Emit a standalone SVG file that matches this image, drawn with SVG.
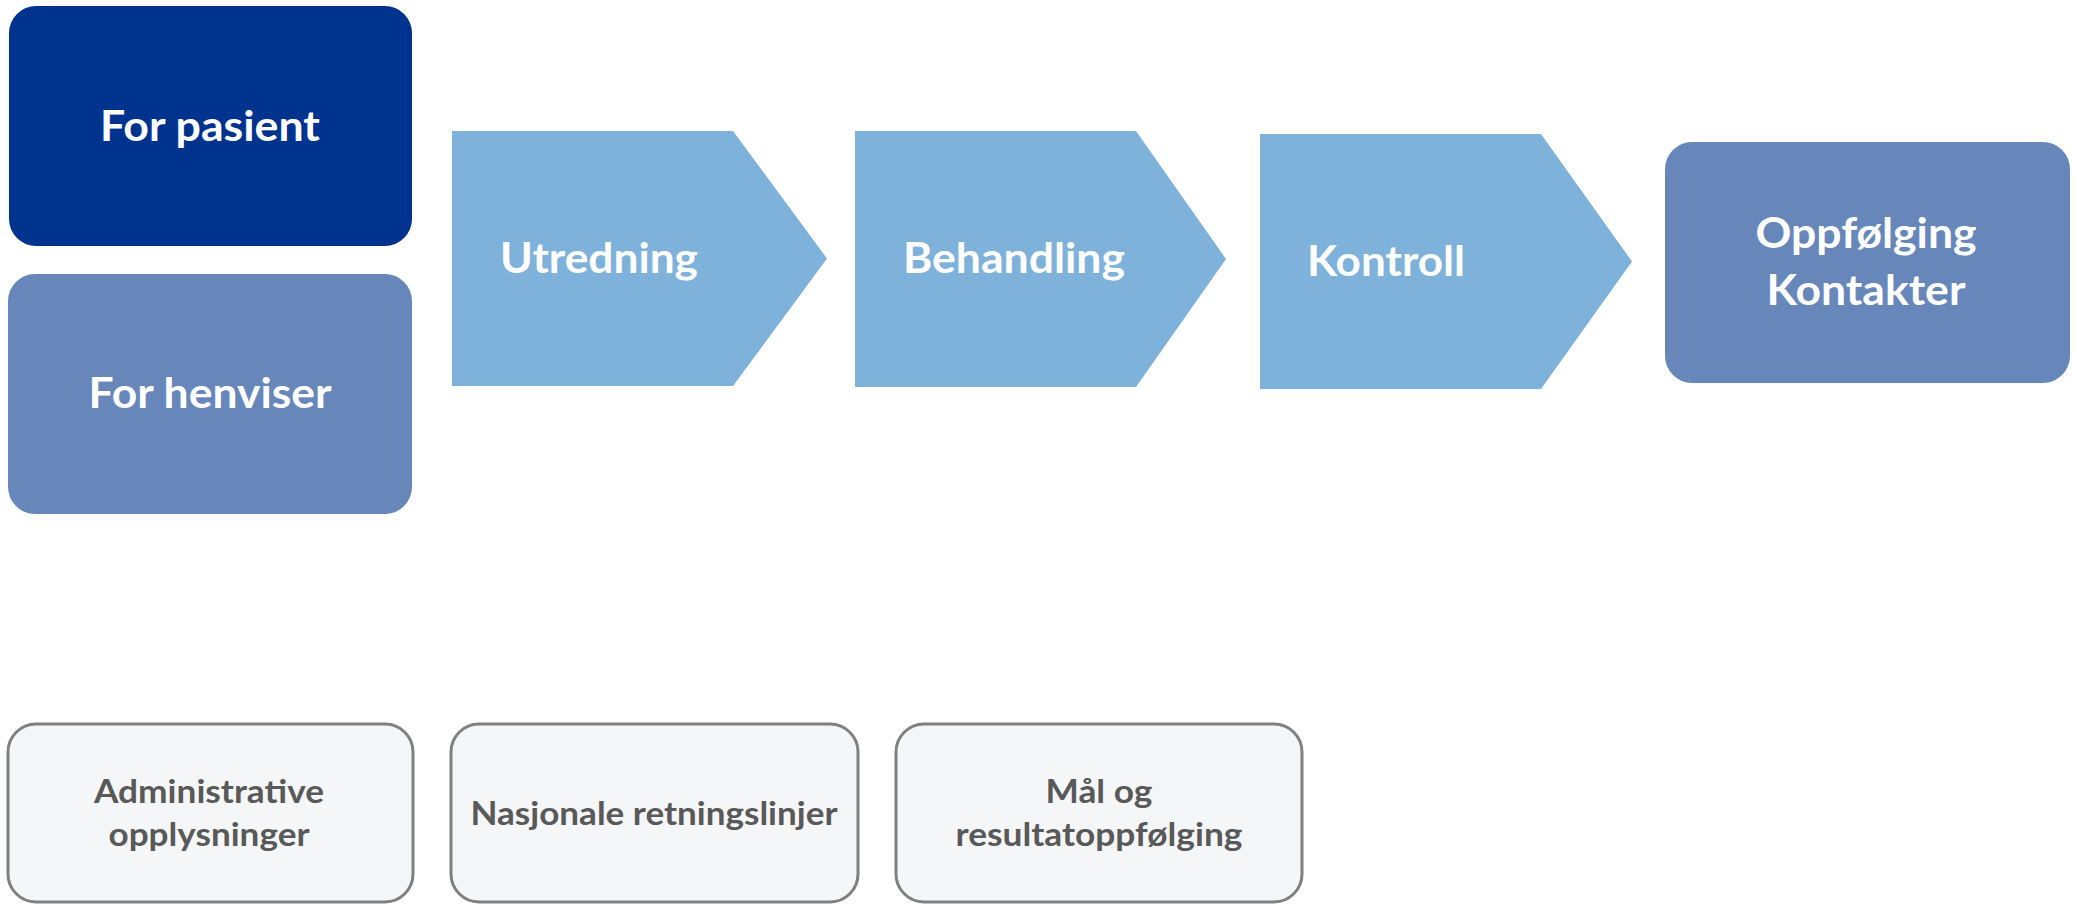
<svg xmlns="http://www.w3.org/2000/svg" width="2074" height="904" viewBox="0 0 2074 904">
<style>
.bg{fill:#ffffff}
.dark{fill:#00338D}
.mid{fill:#6787BB}
.chev{fill:#7EB2DB}
.note{fill:#F5F6F8;stroke:#808080;stroke-width:3}
.t{font-family:Lato,"Open Sans","Liberation Sans",sans-serif;font-weight:bold;fill:#ffffff;text-anchor:middle}
.big{font-size:42px}
.small{font-size:32px;fill:#595959}
</style>
<rect class="bg" x="0" y="0" width="2074" height="904"/>
<g id="for-pasient">
<rect class="dark" x="9" y="6" width="403" height="240" rx="27" ry="27"/>
<text class="t big" x="210" y="141" textLength="220" lengthAdjust="spacingAndGlyphs">For pasient</text>
</g>
<g id="for-henviser">
<rect class="mid" x="8" y="274" width="404" height="240" rx="27" ry="27"/>
<text class="t big" x="210" y="408" textLength="243" lengthAdjust="spacingAndGlyphs">For henviser</text>
</g>
<g id="utredning">
<polygon class="chev" points="452,131 733,131 827,258.5 733,386 452,386"/>
<text class="t big" x="599" y="273" textLength="198" lengthAdjust="spacingAndGlyphs">Utredning</text>
</g>
<g id="behandling">
<polygon class="chev" points="855,131 1136,131 1226,259 1136,387 855,387"/>
<text class="t big" x="1014" y="273" textLength="222" lengthAdjust="spacingAndGlyphs">Behandling</text>
</g>
<g id="kontroll">
<polygon class="chev" points="1260,134 1541,134 1632,261.5 1541,389 1260,389"/>
<text class="t big" x="1386" y="276" textLength="158" lengthAdjust="spacingAndGlyphs">Kontroll</text>
</g>
<g id="oppfolging">
<rect class="mid" x="1665" y="142" width="405" height="241" rx="27" ry="27"/>
<text class="t big" x="1866" y="248" textLength="221" lengthAdjust="spacingAndGlyphs">Oppfølging</text>
<text class="t big" x="1866" y="305" textLength="199" lengthAdjust="spacingAndGlyphs">Kontakter</text>
</g>
<g id="administrative">
<rect class="note" x="8" y="724" width="405" height="178" rx="28" ry="28"/>
<text class="t small" x="209" y="803" textLength="230" lengthAdjust="spacingAndGlyphs">Administrative</text>
<text class="t small" x="209" y="846" textLength="201" lengthAdjust="spacingAndGlyphs">opplysninger</text>
</g>
<g id="nasjonale">
<rect class="note" x="451" y="724" width="407" height="178" rx="28" ry="28"/>
<text class="t small" x="654" y="825" textLength="367" lengthAdjust="spacingAndGlyphs">Nasjonale retningslinjer</text>
</g>
<g id="maal">
<rect class="note" x="896" y="724" width="406" height="178" rx="28" ry="28"/>
<text class="t small" x="1099" y="803" textLength="107" lengthAdjust="spacingAndGlyphs">Mål og</text>
<text class="t small" x="1099" y="846" textLength="287" lengthAdjust="spacingAndGlyphs">resultatoppfølging</text>
</g>
<g id="connectors"></g>
</svg>
